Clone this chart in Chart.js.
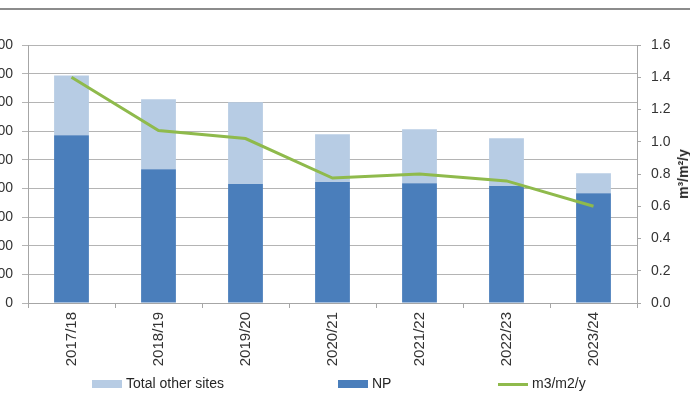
<!DOCTYPE html>
<html>
<head>
<meta charset="utf-8">
<script src="https://cdn.jsdelivr.net/npm/chart.js@4.4.1/dist/chart.umd.min.js"></script>
<style>
    html, body {
        margin: 0;
        padding: 0;
        width: 690px;
        height: 398px;
        overflow: hidden;
        background: #fff;
        position: relative;
        font-family: "Liberation Sans", Arial, sans-serif;
        color: #333;
    }
    /* linea superior del marco */
    #marco {
        position: absolute;
        left: 0;
        top: 8px;
        width: 690px;
        border-top: 2px solid #8c8c8c;
    }
    /* el lienzo empieza fuera de la ventana: las etiquetas de la izquierda quedan cortadas */
    #contenedor {
        position: absolute;
        left: -20px;
        top: 0;
        width: 720px;
        height: 398px;
    }
    #tituloY1 {
        position: absolute;
        left: 683px;
        top: 174px;
        transform: translate(-50%, -50%) rotate(-90deg);
        font-weight: bold;
        font-size: 14px;
        white-space: nowrap;
        color: #262626;
    }
    .leyenda {
        position: absolute;
        top: 374px;
        height: 18px;
        font-size: 14px;
        line-height: 18px;
        white-space: nowrap;
        color: #262626;
    }
    .leyenda i {
        display: inline-block;
        width: 30px;
        vertical-align: middle;
        margin-right: 4px;
    }
</style>
</head>
<body>
<div id="marco"></div>
<div id="contenedor"><canvas id="chartSitios" width="720" height="398"></canvas></div>
<div id="tituloY1">m³/m²/y</div>
<div id="leyendas"></div>

<script>
// Datos
const periodos = ['2017/18', '2018/19', '2019/20', '2020/21', '2021/22', '2022/23', '2023/24'];
const valoresNP = [585, 467, 415, 422, 418, 408, 383];
const valoresOtros = [209, 244, 285, 167, 188, 167, 70];
const valoresRatio = [1.40, 1.07, 1.02, 0.775, 0.80, 0.757, 0.60];
const nombresSeries = ['Total other sites', 'NP', 'm3/m2/y'];

const colores = {
    np: '#4a7ebb',
    otros: '#b7cce4',
    ratio: '#8fba4c',
    rejilla: '#b4b4b4',
    eje: '#a6a6a6',
    texto: '#333333'
};

const fuente = '"Liberation Sans", Arial, sans-serif';

const chartSitios = new Chart(document.getElementById('chartSitios'), {
    type: 'bar',
    data: {
        labels: periodos,
        datasets: [
            {
                label: nombresSeries[1],
                data: valoresNP,
                backgroundColor: colores.np,
                yAxisID: 'y',
                stack: 'sitios',
                categoryPercentage: 0.8,
                barPercentage: 0.5,
                order: 2
            },
            {
                label: nombresSeries[0],
                data: valoresOtros,
                backgroundColor: colores.otros,
                yAxisID: 'y',
                stack: 'sitios',
                categoryPercentage: 0.8,
                barPercentage: 0.5,
                order: 2
            },
            {
                type: 'line',
                label: nombresSeries[2],
                data: valoresRatio,
                borderColor: colores.ratio,
                backgroundColor: colores.ratio,
                borderWidth: 3,
                pointRadius: 0,
                tension: 0,
                yAxisID: 'y1',
                order: 1
            }
        ]
    },
    options: {
        responsive: false,
        animation: false,
        layout: { padding: { top: 45, left: 0, right: 0, bottom: 0 } },
        plugins: {
            legend: { display: false },
            tooltip: { enabled: false }
        },
        scales: {
            x: {
                stacked: true,
                afterFit: scale => { scale.height = 95; },
                grid: {
                    offset: true,
                    drawOnChartArea: false,
                    drawTicks: true,
                    tickLength: 5,
                    color: colores.eje
                },
                border: { color: colores.eje },
                ticks: {
                    autoSkip: false,
                    minRotation: 90,
                    maxRotation: 90,
                    padding: 4,
                    color: colores.texto,
                    font: { family: fuente, size: 15 }
                }
            },
            y: {
                position: 'left',
                stacked: true,
                min: 0,
                max: 900,
                afterFit: scale => { scale.width = 48; },
                grid: {
                    color: colores.rejilla,
                    tickLength: 6
                },
                border: { color: colores.eje },
                ticks: {
                    stepSize: 100,
                    padding: 9,
                    color: colores.texto,
                    font: { family: fuente, size: 14 }
                }
            },
            y1: {
                position: 'right',
                min: 0,
                max: 1.6,
                afterFit: scale => { scale.width = 63; },
                grid: {
                    drawOnChartArea: false,
                    tickLength: 4,
                    color: colores.eje
                },
                border: { color: colores.eje },
                ticks: {
                    stepSize: 0.2,
                    padding: 10,
                    color: colores.texto,
                    font: { family: fuente, size: 14 },
                    callback: valor => valor.toFixed(1)
                }
            }
        }
    }
});

// Leyenda en HTML, con el orden del original
const posicionesLeyenda = [92, 338, 498];
const muestras = [
    `height:8px;background:${colores.otros}`,
    `height:8px;background:${colores.np}`,
    `height:3px;background:${colores.ratio}`
];
const cajaLeyenda = document.getElementById('leyendas');
nombresSeries.forEach((nombre, i) => {
    const item = document.createElement('div');
    item.className = 'leyenda';
    item.style.left = posicionesLeyenda[i] + 'px';
    item.innerHTML = `<i style="${muestras[i]}"></i>${nombre}`;
    cajaLeyenda.appendChild(item);
});
</script>
</body>
</html>
